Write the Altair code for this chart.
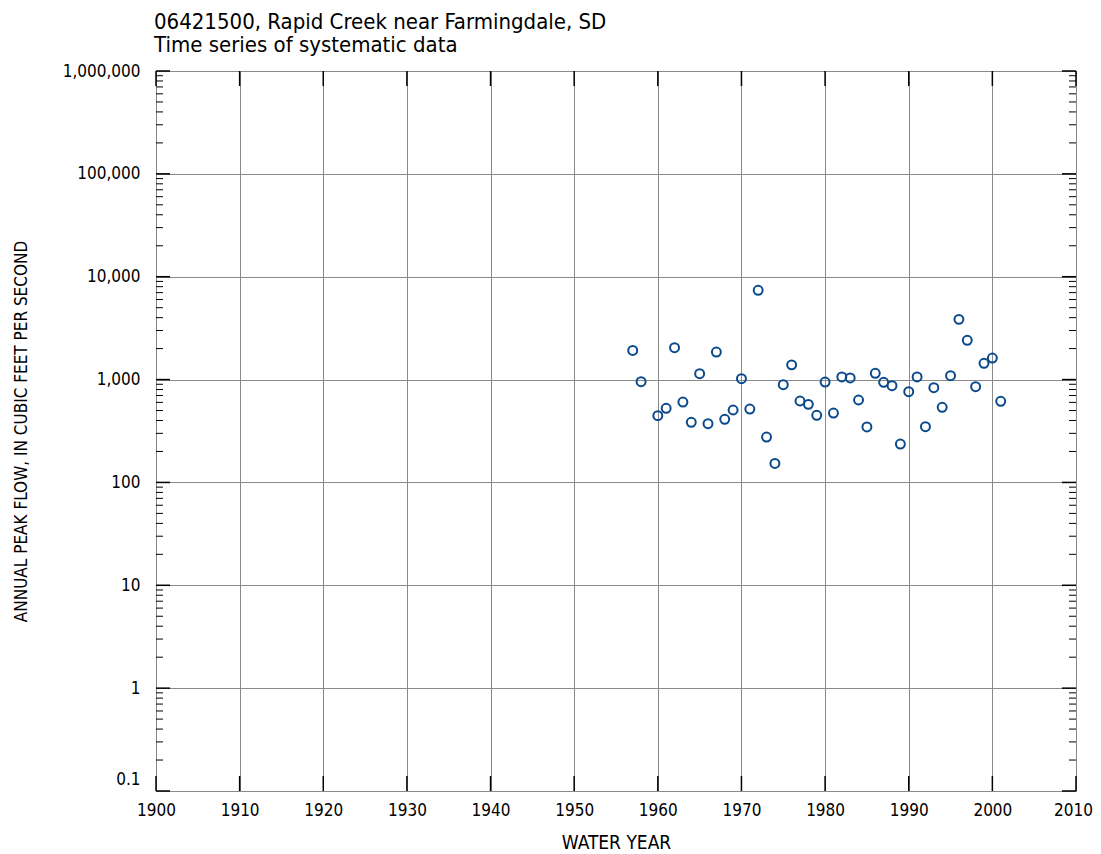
import altair as alt
import pandas as pd

title_lines = ["06421500, Rapid Creek near Farmingdale, SD", "Time series of systematic data"]

years = [1957, 1958, 1960, 1961, 1962, 1963, 1964, 1965, 1966, 1967, 1968, 1969,
         1970, 1971, 1972, 1973, 1974, 1975, 1976, 1977, 1978, 1979, 1980, 1981,
         1982, 1983, 1984, 1985, 1986, 1987, 1988, 1989, 1990, 1991, 1992, 1993,
         1994, 1995, 1996, 1997, 1998, 1999, 2000, 2001]
peaks = [1920, 953, 446, 526, 2040, 605, 384, 1140, 372, 1850, 411, 506,
         1020, 517, 7380, 276, 153, 891, 1390, 619, 574, 449, 946, 473,
         1060, 1036, 633, 346, 1150, 940, 871, 236, 762, 1060, 348, 834,
         537, 1090, 3850, 2410, 853, 1440, 1620, 615]

x_ticks = list(range(1900, 2011, 10))
y_ticks = [0.1, 1, 10, 100, 1000, 10000, 100000, 1000000]
minor_ticks = [m * d for d in [0.1, 1, 10, 100, 1000, 10000, 100000] for m in range(2, 10)]

FONT = "Liberation Sans Narrow, DejaVu Sans Condensed, Roboto Condensed, sans-serif"
W, H = 920, 720

df = pd.DataFrame({"year": years, "peak": peaks})
xdf = pd.DataFrame({"year": x_ticks})
ydf = pd.DataFrame({"v": y_ticks})
mdf = pd.DataFrame({"v": minor_ticks})
tdf = pd.DataFrame({"t": ["\n".join(title_lines)]})

xscale = alt.Scale(domain=[1900, 2010], nice=False, zero=False)
yscale = alt.Scale(type="log", domain=[0.1, 1000000], nice=False)

xaxis = alt.Axis(values=x_ticks, format="d", grid=True, gridColor="#8a8a8a", gridWidth=1,
                 gridOpacity=1, ticks=False, domain=False, labelFont=FONT, labelFontSize=17,
                 labelColor="black", labelPadding=11, labelFlush=False,
                 labelOffset={"condition": {"test": "datum.value > 2005", "value": -3}, "value": 0},
                 title="WATER YEAR", titleFont=FONT, titleFontSize=19, titleFontWeight="normal",
                 titleColor="black", titleY=57, titleX=W / 2, titleBaseline="alphabetic")
yaxis = alt.Axis(values=y_ticks, grid=True, gridColor="#8a8a8a", gridWidth=1,
                 gridOpacity=1, ticks=False, domain=False, labelFont=FONT, labelFontSize=17,
                 labelColor="black", labelPadding=16, labelFlush=False,
                 labelOffset={"condition": {"test": "datum.value < 0.5", "value": -12}, "value": 0},
                 labelExpr="datum.value < 0.5 ? '0.1' : format(datum.value, ',')",
                 title="ANNUAL PEAK FLOW, IN CUBIC FEET PER SECOND", titleFont=FONT,
                 titleFontSize=17, titleFontWeight="normal", titleColor="black",
                 titleX=-135, titleY=H / 2, titleAngle=270, titleBaseline="middle")

points = alt.Chart(df).mark_point(shape="circle", filled=False, size=80, strokeWidth=2,
                                  color="#0a4a8c", opacity=1).encode(
    x=alt.X("year:Q", scale=xscale, axis=xaxis),
    y=alt.Y("peak:Q", scale=yscale, axis=yaxis),
)

tick_col = "black"
left_major = alt.Chart(ydf).mark_rule(color=tick_col, strokeWidth=1.5).encode(
    y=alt.Y("v:Q", scale=yscale), x=alt.value(0), x2=alt.value(14))
right_major = alt.Chart(ydf).mark_rule(color=tick_col, strokeWidth=1.5).encode(
    y=alt.Y("v:Q", scale=yscale), x=alt.value(W - 14), x2=alt.value(W))
left_minor = alt.Chart(mdf).mark_rule(color=tick_col, strokeWidth=1).encode(
    y=alt.Y("v:Q", scale=yscale), x=alt.value(0), x2=alt.value(7))
right_minor = alt.Chart(mdf).mark_rule(color=tick_col, strokeWidth=1).encode(
    y=alt.Y("v:Q", scale=yscale), x=alt.value(W - 7), x2=alt.value(W))
top_major = alt.Chart(xdf).mark_rule(color=tick_col, strokeWidth=1.5).encode(
    x=alt.X("year:Q", scale=xscale), y=alt.value(0), y2=alt.value(15))
bottom_major = alt.Chart(xdf).mark_rule(color=tick_col, strokeWidth=1.5).encode(
    x=alt.X("year:Q", scale=xscale), y=alt.value(H - 15), y2=alt.value(H))

title = alt.Chart(tdf).mark_text(align="left", baseline="alphabetic", lineBreak="\n",
                                 font=FONT, fontSize=22, lineHeight=23, color="black").encode(
    text="t:N", x=alt.value(-2), y=alt.value(-42))

chart = alt.layer(points, left_major, right_major, left_minor, right_minor,
                  top_major, bottom_major, title).properties(
    width=W, height=H,
    autosize=alt.AutoSizeParams(type="none"),
    padding={"left": 148, "top": 63, "right": 17, "bottom": 63},
).configure_view(stroke="black", strokeWidth=2.5).configure(background="white")

chart.save("out.html", embed_options={"renderer": "svg", "actions": False})
